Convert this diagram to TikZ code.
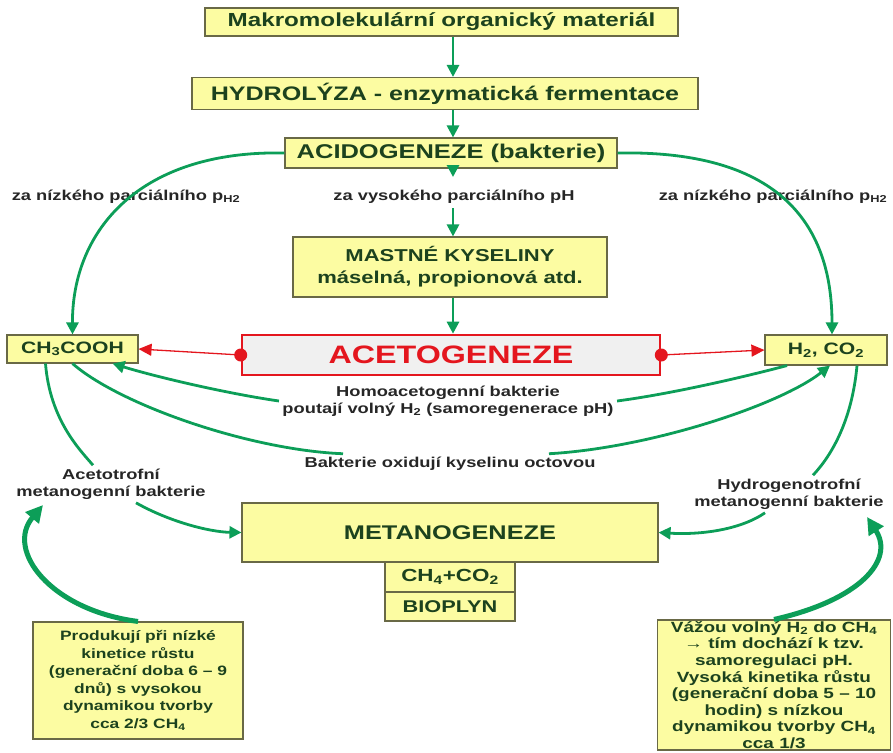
\documentclass[tikz,border=0pt]{standalone}
\usepackage{fontspec}
\setmainfont[FakeStretch=1.28]{Liberation Sans}
\usetikzlibrary{arrows.meta}
\definecolor{boxfill}{RGB}{252,252,162}
\definecolor{boxline}{RGB}{105,105,70}
\definecolor{boxtext}{RGB}{28,66,30}
\definecolor{flow}{RGB}{12,158,88}
\definecolor{acered}{RGB}{228,22,30}
\newcommand{\fs}[2]{\fontsize{#1}{#2}\selectfont}

\begin{document}
\begin{tikzpicture}[x=1pt,y=-1pt,font=\bfseries,>={Triangle[length=12pt,width=12pt]},
  box/.style={draw=boxline,line width=1.1pt,fill=boxfill,text=boxtext,inner sep=0pt,align=center},
  redbox/.style={draw=acered,line width=2.6pt,fill=black!6,text=acered,inner sep=0pt},
  flw/.style={draw=flow,line width=2.8pt,->},
  bigflw/.style={draw=flow,line width=5pt,-{Triangle[length=17pt,width=17pt]}},
  redflw/.style={draw=acered,line width=1.3pt,-{Triangle[length=13pt,width=12pt]}},
  lbl/.style={font=\bfseries\fs{14.3}{17},text=black!85,align=center}]
\useasboundingbox (0,0) rectangle (893,752);
\coordinate (col) at (453,0);
% main chain
\node[box,minimum width=473pt,minimum height=28pt,font=\bfseries\fs{18.9}{20}] (mat) at (441.5,22) {Makromolekulární organický materiál};
\node[box,minimum width=506pt,minimum height=32pt,font=\bfseries\fs{19.6}{20}] (hyd) at (445,93.5) {HYDROLÝZA - enzymatická fermentace};
\node[box,minimum width=332pt,minimum height=30pt,font=\bfseries\fs{19.9}{20}] (aci) at (451,153) {ACIDOGENEZE (bakterie)};
\node[box,minimum width=314pt,minimum height=60pt,font=\bfseries\fs{17.2}{22}] (fat) at (450,267) {MASTNÉ KYSELINY\\máselná, propionová atd.};
\node[redbox,minimum width=418pt,minimum height=40pt,font=\bfseries\fs{25.2}{28}] (ace) at (451,355) {ACETOGENEZE};
\node[box,minimum width=131pt,minimum height=28pt,font=\bfseries\fs{16.5}{18}] (ch3) at (72.5,349) {CH\textsubscript{3}COOH};
\node[box,minimum width=122pt,minimum height=30pt,font=\bfseries\fs{16.5}{18}] (h2) at (826,350) {H\textsubscript{2}, CO\textsubscript{2}};
\node[box,minimum width=416pt,minimum height=59pt,font=\bfseries\fs{19.8}{22}] (met) at (450,532.5) {METANOGENEZE};
\node[box,minimum width=130pt,minimum height=30pt,font=\bfseries\fs{17.5}{18}] (gas) at (450,577) {CH\textsubscript{4}+CO\textsubscript{2}};
\node[box,minimum width=130pt,minimum height=29pt,font=\bfseries\fs{17}{18}] (bio) at (450,606.5) {BIOPLYN};
% notes
\node[box,minimum width=210pt,minimum height=117pt,font=\bfseries\fs{13.6}{17.5}] (noteL) at (138,680.5)
  {Produkují při nízké\\kinetice růstu\\(generační doba 6 – 9\\dnů) s vysokou\\dynamikou tvorby\\cca 2/3 CH\textsubscript{4}};
\node[box,minimum width=233pt,minimum height=130pt,font=\bfseries\fs{14.8}{16.6}] (noteR) at (774,685)
  {Vážou volný H\textsubscript{2} do CH\textsubscript{4}\\→ tím dochází k tzv.\\samoregulaci pH.\\Vysoká kinetika růstu\\(generační doba 5 – 10\\hodin) s nízkou\\dynamikou tvorby CH\textsubscript{4}\\cca 1/3};
% labels
\node[lbl] (lowL) at (126,197) {za nízkého parciálního p\textsubscript{H2}};
\node[lbl] (high) at (454,197) {za vysokého parciálního pH};
\node[lbl] (lowR) at (773,197) {za nízkého parciálního p\textsubscript{H2}};
\node[lbl] (homo) at (448,401) {Homoacetogenní bakterie\\poutají volný H\textsubscript{2} (samoregenerace pH)};
\node[lbl] (bac) at (450,464) {Bakterie oxidují kyselinu octovou};
\node[lbl] (acet) at (111,484) {Acetotrofní\\metanogenní bakterie};
\node[lbl] (hydr) at (789,494) {Hydrogenotrofní\\metanogenní bakterie};
\coordinate (a1) at (453,177);
\coordinate (a2) at (453,208);
\coordinate (tipL) at (43,505);
\coordinate (tipR) at (867,517);
% straight arrows
\draw[flw] (mat.south -| col) -- (hyd.north -| col);
\draw[flw] (hyd.south -| col) -- (aci.north -| col);
\draw[flw] (aci.south -| col) -- (a1);
\draw[flw] (a2) -- (fat.north -| col);
\draw[flw] (fat.south -| col) -- (ace.north -| col);
% acetogeneze products
\draw[redflw] (ace.west) -- (ch3.east);
\draw[redflw] (ace.east) -- (h2.west);
\fill[acered] (ace.west) circle (6.5pt) (ace.east) circle (6.5pt);
% low pH2 branches
\draw[flw] (aci.west) .. controls (140,150) and (72,230) .. (ch3.north);
\draw[flw] (aci.east) .. controls (775,150) and (832,220) .. ([xshift=6pt]h2.north);
% exchange between acetate and hydrogen
\draw[flw,-] ([xshift=-39pt]h2.south) .. controls (740,378) and (670,394) .. (homo.east);
\draw[flw] (homo.west) .. controls (230,394) and (160,378) .. ([xshift=40pt]ch3.south);
\draw[flw,-] (ch3.south) .. controls (120,405) and (250,450) .. ([xshift=42pt]bac.north west);
\draw[flw] ([xshift=-50pt]bac.north east) .. controls (650,448) and (780,405) .. ([xshift=4pt]h2.south);
% methanogens
\draw[flw,-] ([xshift=-27pt]ch3.south) .. controls (50,420) and (80,450) .. ([xshift=-18pt]acet.north);
\draw[flw] ([xshift=25pt]acet.south) .. controls (170,522) and (210,532) .. (met.west);
\draw[flw,-] ([xshift=31pt]h2.south) .. controls (852,420) and (832,455) .. ([xshift=24pt]hydr.north);
\draw[flw] ([xshift=-24pt]hydr.south) .. controls (740,530) and (700,535) .. (met.east);
% notes to bacteria
\draw[bigflw] (noteL.north) .. controls (50,610) and (5,550) .. (tipL);
\draw[bigflw] (noteR.north) .. controls (860,600) and (895,560) .. (tipR);
\end{tikzpicture}
\end{document}
